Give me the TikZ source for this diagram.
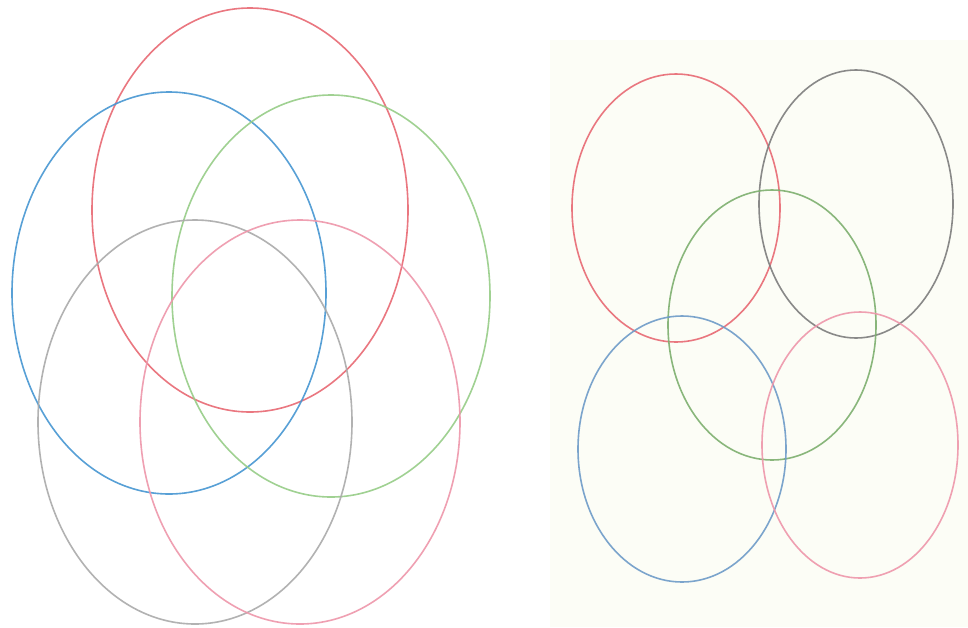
\documentclass[tikz,border=0pt]{standalone}
\usepackage{tikz}
\definecolor{cred}{RGB}{232,105,115}
\definecolor{cblue}{RGB}{70,150,210}
\definecolor{cgreen}{RGB}{150,205,135}
\definecolor{cgray}{RGB}{170,170,170}
\definecolor{cpink}{RGB}{238,150,170}
\definecolor{cgrayR}{RGB}{125,125,125}
\definecolor{cgreenR}{RGB}{125,175,110}
\definecolor{cblueR}{RGB}{110,155,200}
\definecolor{cream}{RGB}{252,253,246}
\tikzset{ring/.style={line width=1.6pt, opacity=0.9}}
\begin{document}
\begin{tikzpicture}[x=1pt,y=-1pt]
\useasboundingbox (0,0) rectangle (968,627);
\fill[white] (0,0) rectangle (968,627);
\fill[cream] (550,40) rectangle (968,627);
% left panel
\draw[ring,cred]   (250,210) ellipse [x radius=158pt, y radius=202pt];
\draw[ring,cblue]  (169,293) ellipse [x radius=157pt, y radius=201pt];
\draw[ring,cgreen] (331,296) ellipse [x radius=159pt, y radius=201pt];
\draw[ring,cgray]  (195,422) ellipse [x radius=157pt, y radius=202pt];
\draw[ring,cpink]  (300,422) ellipse [x radius=160pt, y radius=202pt];
% right panel
\draw[ring,cred]    (676,208) ellipse [x radius=104pt, y radius=134pt];
\draw[ring,cgrayR]  (856,204) ellipse [x radius=97pt, y radius=134pt];
\draw[ring,cgreenR] (772,325) ellipse [x radius=104pt, y radius=135pt];
\draw[ring,cblueR]  (682,449) ellipse [x radius=104pt, y radius=133pt];
\draw[ring,cpink]   (860,445) ellipse [x radius=98pt, y radius=133pt];
\end{tikzpicture}
\end{document}
